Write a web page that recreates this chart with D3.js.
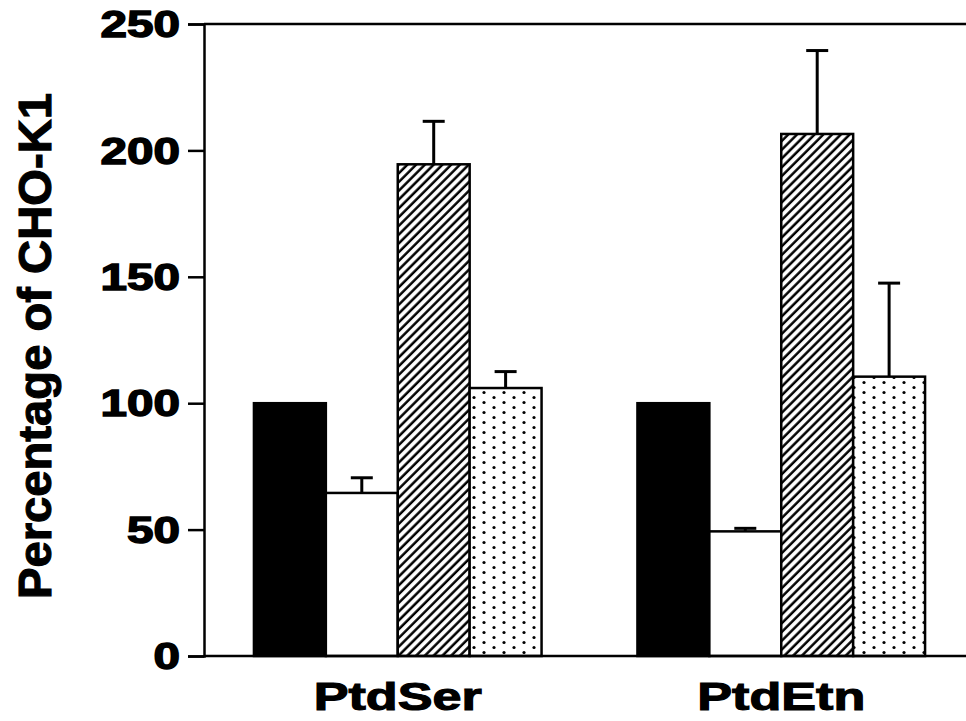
<!DOCTYPE html>
<html>
<head>
<meta charset="utf-8">
<script src="https://cdn.jsdelivr.net/npm/d3@7"></script>
<style>
  html, body { margin: 0; padding: 0; background: #fff; }
  svg { display: block; }
  text { font-family: "Liberation Sans", Arial, Helvetica, sans-serif; font-weight: bold; fill: #000; }
</style>
</head>
<body>
<svg id="chart" width="966" height="721"></svg>
<script>
// ---- data ----
const categories = ["PtdSer", "PtdEtn"];
const seriesNames = ["solid", "open", "hatched", "dotted"];
const solidValues   = [100, 100];
const openValues    = [64.5, 49.3];
const hatchedValues = [194.5, 206.5];
const dottedValues  = [106, 110.5];
const solidErrors   = [0, 0];
const openErrors    = [6, 1.2];
const hatchedErrors = [17, 33];
const dottedErrors  = [6.5, 37];
const yTicks = [0, 50, 100, 150, 200, 250];
const yLabel = "Percentage of CHO-K1";

const valuesBySeries = { solid: solidValues, open: openValues, hatched: hatchedValues, dotted: dottedValues };
const errorsBySeries = { solid: solidErrors, open: openErrors, hatched: hatchedErrors, dotted: dottedErrors };
const fills = { solid: "#000", open: "#fff", hatched: "url(#hatch)", dotted: "url(#dots)" };

const rows = [];
categories.forEach((c, ci) => {
  seriesNames.forEach(s => {
    rows.push({ cat: c, series: s, value: valuesBySeries[s][ci], err: errorsBySeries[s][ci] });
  });
});

const svg = d3.select("#chart");

// patterns
const defs = svg.append("defs");
const hatch = defs.append("pattern")
  .attr("id", "hatch").attr("patternUnits", "userSpaceOnUse")
  .attr("width", 6.2).attr("height", 6.2)
  .attr("patternTransform", "rotate(45)");
hatch.append("rect").attr("width", 6.2).attr("height", 6.2).attr("fill", "#fff");
hatch.append("line").attr("x1", 1.5).attr("y1", -1).attr("x2", 1.5).attr("y2", 8)
  .attr("stroke", "#000").attr("stroke-width", 2.5);

const dots = defs.append("pattern")
  .attr("id", "dots").attr("patternUnits", "userSpaceOnUse")
  .attr("width", 20).attr("height", 10);
dots.append("rect").attr("width", 20).attr("height", 10).attr("fill", "#fff");
dots.append("circle").attr("cx", 4).attr("cy", 2.5).attr("r", 1.6).attr("fill", "#000");
dots.append("circle").attr("cx", 14).attr("cy", 7.5).attr("r", 1.6).attr("fill", "#000");

// scales
const y = d3.scaleLinear().domain([0, 250]).range([656, 24]);
const x0 = d3.scaleBand().domain(categories).range([206, 973]).paddingInner(0.25).paddingOuter(0.125);
const x1 = d3.scaleBand().domain(seriesNames).range([0, x0.bandwidth()]);

// top frame line
svg.append("line")
  .attr("x1", 204).attr("x2", 966).attr("y1", y(250)).attr("y2", y(250))
  .attr("stroke", "#000").attr("stroke-width", 2.5);

// bars
const bars = svg.append("g");
bars.selectAll("rect").data(rows).join("rect")
  .attr("x", d => x0(d.cat) + x1(d.series))
  .attr("y", d => y(d.value))
  .attr("width", x1.bandwidth())
  .attr("height", d => y(0) - y(d.value))
  .attr("fill", d => fills[d.series])
  .attr("stroke", "#000").attr("stroke-width", 2.5);

// error bars
const errRows = rows.filter(d => d.err > 0);
const eg = svg.append("g").attr("stroke", "#000").attr("stroke-width", 3);
eg.selectAll("line.stem").data(errRows).join("line").attr("class", "stem")
  .attr("x1", d => x0(d.cat) + x1(d.series) + x1.bandwidth() / 2)
  .attr("x2", d => x0(d.cat) + x1(d.series) + x1.bandwidth() / 2)
  .attr("y1", d => y(d.value))
  .attr("y2", d => y(d.value + d.err));
eg.selectAll("line.cap").data(errRows).join("line").attr("class", "cap")
  .attr("x1", d => x0(d.cat) + x1(d.series) + x1.bandwidth() / 2 - 11)
  .attr("x2", d => x0(d.cat) + x1(d.series) + x1.bandwidth() / 2 + 11)
  .attr("y1", d => y(d.value + d.err))
  .attr("y2", d => y(d.value + d.err));

// y axis
const yAxis = svg.append("g").attr("transform", "translate(204,0)")
  .call(d3.axisLeft(y).tickValues(yTicks).tickSize(16).tickPadding(8).tickFormat(d3.format("d")));
yAxis.select(".domain").attr("stroke", "#000").attr("stroke-width", 2.5);
yAxis.selectAll(".tick line").attr("stroke", "#000").attr("stroke-width", 2.5);
yAxis.selectAll(".tick text")
  .attr("font-size", 36)
  .attr("dy", "0.35em")
  .attr("font-family", "'Liberation Sans', Arial, sans-serif")
  .attr("font-weight", "bold")
  .attr("stroke", "#000").attr("stroke-width", 1.4)
  .attr("lengthAdjust", "spacingAndGlyphs")
  .attr("textLength", d => String(d).length * 26.5);

// baseline
svg.append("line")
  .attr("x1", 204).attr("x2", 966).attr("y1", y(0)).attr("y2", y(0))
  .attr("stroke", "#000").attr("stroke-width", 2.5);

// x labels
svg.append("g").selectAll("text").data(categories).join("text")
  .attr("x", d => x0(d) + x0.bandwidth() / 2)
  .attr("y", 710)
  .attr("text-anchor", "middle")
  .attr("font-size", 38)
  .attr("stroke", "#000").attr("stroke-width", 1.1)
  .attr("lengthAdjust", "spacingAndGlyphs")
  .attr("textLength", 168)
  .text(d => d);

// y label
svg.append("text")
  .attr("transform", "translate(51,346) rotate(-90)")
  .attr("text-anchor", "middle")
  .attr("font-size", 46)
  .attr("stroke", "#000").attr("stroke-width", 1.1)
  .attr("lengthAdjust", "spacingAndGlyphs")
  .attr("textLength", 506)
  .text(yLabel);
</script>
</body>
</html>
